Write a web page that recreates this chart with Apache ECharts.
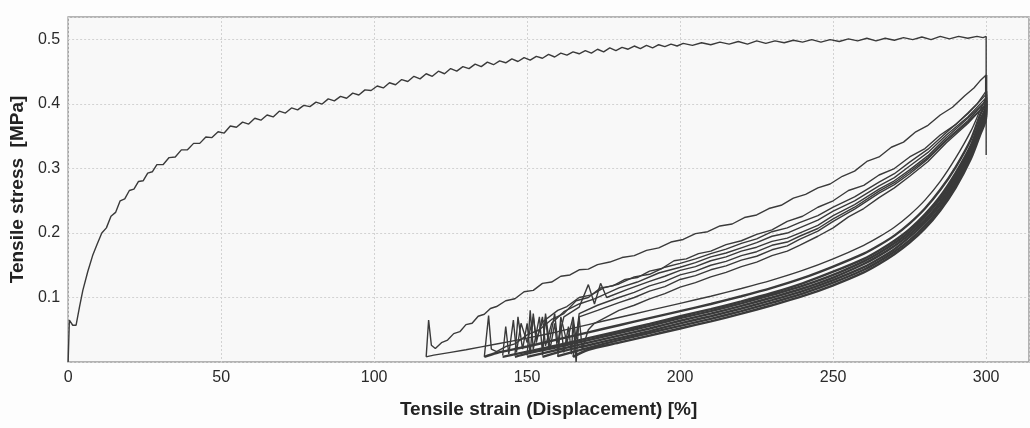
<!DOCTYPE html>
<html>
<head>
<meta charset="utf-8">
<script src="https://cdn.jsdelivr.net/npm/echarts@6/dist/echarts.min.js"></script>
<style>
  html, body { margin: 0; padding: 0; background: #fdfdfd; }
  #chart { width: 1030px; height: 428px; }
</style>
</head>
<body>
<div id="chart"></div>
<script>
// axis ticks
const xTicks = [0, 50, 100, 150, 200, 250, 300]
const yTicks = [0.1, 0.2, 0.3, 0.4, 0.5]

// first loading up to 300 %
const load0 = [
  [0, 0], [0.4, 0.065], [1.5, 0.057], [2.6, 0.057], [3.7, 0.085], [4.8, 0.111], [6.4, 0.14], [8, 0.165],
  [9.5, 0.183], [11, 0.2], [12.5, 0.208], [14, 0.226], [15.5, 0.232], [17, 0.25], [18.5, 0.253], [20, 0.266],
  [21.5, 0.268], [23, 0.28], [24.5, 0.281], [26, 0.293], [27.5, 0.295], [29, 0.306], [31, 0.306], [33, 0.317],
  [35, 0.318], [37, 0.329], [39, 0.329], [41, 0.339], [43, 0.339], [45, 0.349], [47, 0.348], [49, 0.357],
  [51, 0.355], [53, 0.366], [55, 0.364], [57, 0.372], [59, 0.369], [61, 0.378], [63, 0.375], [65, 0.383],
  [67, 0.38], [69, 0.389], [71, 0.386], [73, 0.394], [75, 0.391], [77, 0.398], [79, 0.396], [81, 0.403],
  [83, 0.4], [85, 0.408], [87, 0.405], [89, 0.412], [91, 0.409], [93, 0.417], [95, 0.414], [97, 0.422],
  [99, 0.421], [101, 0.428], [103, 0.425], [105, 0.433], [107, 0.43], [109, 0.438], [111, 0.435], [113, 0.443],
  [115, 0.439], [117, 0.447], [119, 0.443], [121, 0.451], [123, 0.447], [125, 0.455], [127, 0.451], [129, 0.458],
  [131, 0.455], [133, 0.462], [135, 0.458], [137, 0.465], [139, 0.461], [141, 0.467], [143, 0.464], [145, 0.47],
  [147, 0.466], [149, 0.472], [151, 0.468], [153, 0.474], [155, 0.471], [157, 0.477], [159, 0.473], [161, 0.479],
  [163, 0.476], [165, 0.481], [167, 0.478], [169, 0.483], [171, 0.479], [173, 0.485], [175, 0.481], [177, 0.487],
  [179, 0.483], [181, 0.488], [183, 0.485], [185, 0.49], [187, 0.486], [189, 0.491], [191, 0.487], [193, 0.492],
  [195, 0.489], [197, 0.493], [199, 0.49], [201, 0.494], [204, 0.491], [207, 0.495], [210, 0.492], [213, 0.496],
  [216, 0.493], [219, 0.497], [222, 0.493], [225, 0.498], [228, 0.494], [231, 0.498], [234, 0.495], [237, 0.499],
  [240, 0.496], [243, 0.5], [246, 0.496], [249, 0.5], [252, 0.497], [255, 0.501], [258, 0.498], [261, 0.502],
  [264, 0.498], [267, 0.502], [270, 0.499], [273, 0.503], [276, 0.5], [279, 0.504], [282, 0.5], [285, 0.505],
  [288, 0.501], [291, 0.505], [294, 0.502], [297, 0.505], [299, 0.503], [300, 0.505]
]

// unloading curves (lower band)
const unload1 = [[300, 0.505], [300, 0.321], [300, 0.41], [298, 0.39], [295, 0.358], [290, 0.316], [285, 0.28], [280, 0.251], [275, 0.228], [270, 0.209], [265, 0.194], [260, 0.181], [250, 0.16], [240, 0.142], [230, 0.127], [220, 0.114], [210, 0.102], [200, 0.091], [190, 0.08], [180, 0.069], [170, 0.058], [160, 0.047], [150, 0.037], [140, 0.028], [130, 0.019], [120, 0.011], [117, 0.008]]
const unload2 = [[300, 0.445], [300, 0.405], [298, 0.383], [295, 0.345], [290, 0.302], [285, 0.267], [280, 0.238], [275, 0.215], [270, 0.196], [265, 0.181], [260, 0.168], [250, 0.148], [240, 0.13], [230, 0.115], [220, 0.102], [210, 0.09], [200, 0.079], [190, 0.068], [180, 0.057], [170, 0.046], [160, 0.035], [150, 0.024], [140, 0.014], [136, 0.008]]
const unload3 = [[300, 0.42], [300, 0.398], [298, 0.375], [295, 0.336], [290, 0.293], [285, 0.257], [280, 0.229], [275, 0.206], [270, 0.188], [265, 0.173], [260, 0.16], [250, 0.14], [240, 0.122], [230, 0.107], [220, 0.094], [210, 0.082], [200, 0.071], [190, 0.059], [180, 0.048], [170, 0.037], [160, 0.026], [150, 0.016], [142, 0.008]]
const unload4 = [[300, 0.415], [300, 0.394], [298, 0.37], [295, 0.332], [290, 0.288], [285, 0.253], [280, 0.225], [275, 0.202], [270, 0.184], [265, 0.169], [260, 0.156], [250, 0.135], [240, 0.118], [230, 0.104], [220, 0.091], [210, 0.079], [200, 0.068], [190, 0.056], [180, 0.045], [170, 0.034], [160, 0.023], [150, 0.013], [146, 0.008]]
const unload5 = [[300, 0.41], [300, 0.39], [298, 0.366], [295, 0.328], [290, 0.284], [285, 0.248], [280, 0.22], [275, 0.198], [270, 0.18], [265, 0.165], [260, 0.152], [250, 0.131], [240, 0.114], [230, 0.1], [220, 0.087], [210, 0.075], [200, 0.064], [190, 0.052], [180, 0.041], [170, 0.03], [160, 0.019], [150, 0.008]]
const unload6 = [[300, 0.405], [300, 0.386], [298, 0.362], [295, 0.324], [290, 0.279], [285, 0.244], [280, 0.216], [275, 0.194], [270, 0.175], [265, 0.16], [260, 0.147], [250, 0.127], [240, 0.11], [230, 0.096], [220, 0.083], [210, 0.071], [200, 0.06], [190, 0.048], [180, 0.037], [170, 0.026], [160, 0.015], [155, 0.008]]
const unload7 = [[300, 0.405], [300, 0.383], [298, 0.357], [295, 0.319], [290, 0.275], [285, 0.239], [280, 0.211], [275, 0.189], [270, 0.171], [265, 0.156], [260, 0.143], [250, 0.123], [240, 0.106], [230, 0.092], [220, 0.079], [210, 0.067], [200, 0.056], [190, 0.045], [180, 0.034], [170, 0.022], [160, 0.009]]
const unload8 = [[300, 0.4], [300, 0.38], [298, 0.352], [295, 0.315], [290, 0.27], [285, 0.235], [280, 0.207], [275, 0.185], [270, 0.167], [265, 0.152], [260, 0.139], [250, 0.119], [240, 0.102], [230, 0.088], [220, 0.075], [210, 0.063], [200, 0.052], [190, 0.041], [180, 0.03], [170, 0.019], [165, 0.008]]

// reloading curves back to 300 %
const reload1 = [[117, 0.008], [117.8, 0.065], [118.7, 0.026], [120, 0.021], [122, 0.03], [124, 0.034], [126, 0.044], [128, 0.047], [130, 0.058], [132, 0.06], [134, 0.071], [136, 0.074], [138, 0.083], [140, 0.086], [143, 0.095], [146, 0.098], [149, 0.109], [152, 0.111], [155, 0.122], [158, 0.124], [161, 0.133], [164, 0.135], [167, 0.143], [170, 0.144], [173, 0.151], [177, 0.155], [181, 0.162], [185, 0.165], [189, 0.173], [193, 0.177], [197, 0.186], [201, 0.19], [205, 0.199], [209, 0.202], [213, 0.211], [217, 0.214], [221, 0.224], [225, 0.228], [229, 0.238], [233, 0.243], [237, 0.254], [241, 0.26], [245, 0.27], [249, 0.276], [253, 0.288], [257, 0.296], [261, 0.311], [265, 0.318], [269, 0.333], [273, 0.341], [277, 0.357], [281, 0.367], [285, 0.383], [289, 0.395], [293, 0.413], [296, 0.425], [298, 0.436], [300, 0.445]]
const reload2 = [[136, 0.008], [137.4, 0.072], [138.3, 0.02], [140, 0.016], [143, 0.024], [146, 0.028], [150, 0.042], [154, 0.05], [158, 0.066], [162, 0.075], [166, 0.095], [170, 0.1], [174, 0.115], [178, 0.118], [182, 0.128], [186, 0.131], [190, 0.141], [194, 0.145], [198, 0.157], [202, 0.16], [206, 0.168], [210, 0.172], [215, 0.182], [220, 0.188], [225, 0.198], [230, 0.205], [235, 0.218], [240, 0.226], [245, 0.24], [250, 0.25], [255, 0.266], [260, 0.274], [265, 0.29], [270, 0.3], [275, 0.318], [280, 0.331], [285, 0.352], [290, 0.368], [294, 0.386], [297, 0.4], [300, 0.42]]
const reload3 = [[142, 0.01], [143, 0.055], [144, 0.012], [145.5, 0.065], [146.5, 0.015], [148, 0.06], [150, 0.03], [152, 0.07], [153, 0.035], [155, 0.062], [160, 0.08], [163, 0.086], [167, 0.1], [171, 0.104], [175, 0.115], [180, 0.121], [185, 0.132], [190, 0.136], [195, 0.147], [200, 0.153], [205, 0.16], [210, 0.168], [215, 0.175], [220, 0.184], [225, 0.191], [230, 0.202], [235, 0.208], [239, 0.216], [245, 0.227], [250, 0.24], [257, 0.256], [265, 0.279], [270, 0.292], [275, 0.31], [281, 0.33], [287, 0.356], [294, 0.385], [300, 0.415]]
const reload4 = [[146, 0.01], [147, 0.07], [148.5, 0.02], [150, 0.06], [151, 0.012], [152, 0.075], [153, 0.03], [155, 0.07], [156, 0.025], [158, 0.06], [162, 0.078], [167, 0.09], [172, 0.098], [180, 0.115], [186, 0.124], [193, 0.138], [200, 0.147], [205, 0.154], [210, 0.163], [215, 0.169], [220, 0.177], [225, 0.185], [230, 0.195], [235, 0.2], [239, 0.208], [245, 0.22], [250, 0.234], [257, 0.25], [265, 0.273], [270, 0.286], [275, 0.304], [281, 0.325], [287, 0.352], [294, 0.38], [300, 0.41]]
const reload5 = [[150, 0.01], [151, 0.08], [152, 0.02], [154, 0.07], [155, 0.015], [156, 0.07], [157, 0.025], [159, 0.075], [160, 0.03], [162, 0.07], [167, 0.085], [170, 0.12], [172, 0.09], [174, 0.122], [176, 0.1], [183, 0.113], [190, 0.125], [195, 0.133], [200, 0.142], [205, 0.148], [210, 0.157], [215, 0.163], [220, 0.172], [225, 0.178], [230, 0.187], [235, 0.192], [239, 0.2], [245, 0.212], [250, 0.227], [257, 0.244], [265, 0.268], [270, 0.281], [275, 0.298], [281, 0.32], [287, 0.348], [294, 0.378], [300, 0.405]]
const reload6 = [[155, 0.01], [156, 0.075], [157.5, 0.02], [159, 0.06], [160, 0.015], [161, 0.07], [163, 0.03], [165, 0.07], [166, 0.035], [167, 0.075], [173, 0.088], [180, 0.1], [185, 0.108], [190, 0.118], [195, 0.125], [200, 0.135], [205, 0.141], [210, 0.15], [215, 0.156], [220, 0.165], [225, 0.171], [230, 0.181], [235, 0.186], [239, 0.195], [245, 0.207], [250, 0.222], [257, 0.24], [265, 0.265], [270, 0.278], [275, 0.295], [281, 0.317], [287, 0.345], [294, 0.374], [300, 0.405]]
const reload7 = [[160, 0.008], [161, 0.06], [162, 0.015], [163.5, 0.055], [164.5, 0.012], [165, 0.065], [166, 0.0], [167, 0.07], [173, 0.08], [180, 0.092], [185, 0.1], [190, 0.11], [195, 0.117], [200, 0.128], [205, 0.134], [210, 0.143], [215, 0.149], [220, 0.158], [225, 0.164], [230, 0.174], [235, 0.18], [239, 0.19], [245, 0.203], [250, 0.218], [257, 0.237], [265, 0.262], [270, 0.275], [275, 0.292], [281, 0.315], [287, 0.343], [294, 0.372], [300, 0.4]]
const reload8 = [[165, 0.008], [167, 0.069], [168, 0.02], [170, 0.05], [172, 0.06], [176, 0.07], [180, 0.08], [185, 0.088], [190, 0.098], [195, 0.106], [200, 0.116], [205, 0.123], [210, 0.132], [215, 0.139], [220, 0.148], [225, 0.155], [230, 0.165], [235, 0.172], [239, 0.181], [245, 0.195], [250, 0.208], [255, 0.225], [260, 0.238], [265, 0.255], [270, 0.27], [275, 0.288], [281, 0.311], [287, 0.34], [294, 0.37], [300, 0.4]]

const curves = [
  load0,
  unload1, reload1, unload2, reload2, unload3, reload3, unload4, reload4,
  unload5, reload5, unload6, reload6, unload7, reload7, unload8, reload8
]
const unloads = [unload1, unload2, unload3, unload4, unload5, unload6, unload7, unload8]

const myChart = echarts.init(document.getElementById('chart'))

const option = {
  animation: false,
  backgroundColor: '#fdfdfd',
  textStyle: { fontFamily: 'Liberation Sans, Arial, sans-serif' },
  grid: {
    left: 66,
    right: 1,
    top: 17,
    bottom: 66,
    show: true,
    backgroundColor: '#f8f8f8',
    borderColor: '#9c9c9c',
    borderWidth: 1.5
  },
  xAxis: {
    type: 'value',
    min: 0,
    max: 314,
    interval: 50,
    name: 'Tensile strain (Displacement) [%]',
    nameLocation: 'middle',
    nameGap: 38,
    nameTextStyle: { fontSize: 19, fontWeight: 'bold', color: '#222' },
    axisLine: { show: false },
    axisTick: { show: false },
    axisLabel: {
      fontSize: 16,
      color: '#2a2a2a',
      margin: 8,
      showMaxLabel: false,
      formatter: v => xTicks.includes(v) ? String(v) : ''
    },
    splitLine: { show: true, lineStyle: { color: '#d2d2d2', type: [2, 2], width: 1 } }
  },
  yAxis: {
    type: 'value',
    min: 0,
    max: 0.535,
    interval: 0.1,
    name: 'Tensile stress  [MPa]',
    nameLocation: 'middle',
    nameGap: 36,
    nameTextStyle: { fontSize: 19, fontWeight: 'bold', color: '#222' },
    axisLine: { show: false },
    axisTick: { show: false },
    axisLabel: {
      fontSize: 16,
      color: '#2a2a2a',
      margin: 8,
      showMinLabel: false,
      showMaxLabel: false,
      formatter: v => {
        const t = yTicks.find(y => Math.abs(y - v) < 1e-6)
        return t ? String(t) : ''
      }
    },
    splitLine: { show: true, lineStyle: { color: '#d2d2d2', type: [2, 2], width: 1 } }
  },
  series: curves.map((c, i) => ({
    name: 'curve' + i,
    type: 'line',
    data: c,
    showSymbol: false,
    silent: true,
    smooth: unloads.includes(c) ? 0.3 : false,
    lineStyle: {
      color: '#3a3a3a',
      width: unloads.includes(c) && c !== unload1 ? 2.4 : 1.4
    }
  }))
}

myChart.setOption(option)
</script>
</body>
</html>
